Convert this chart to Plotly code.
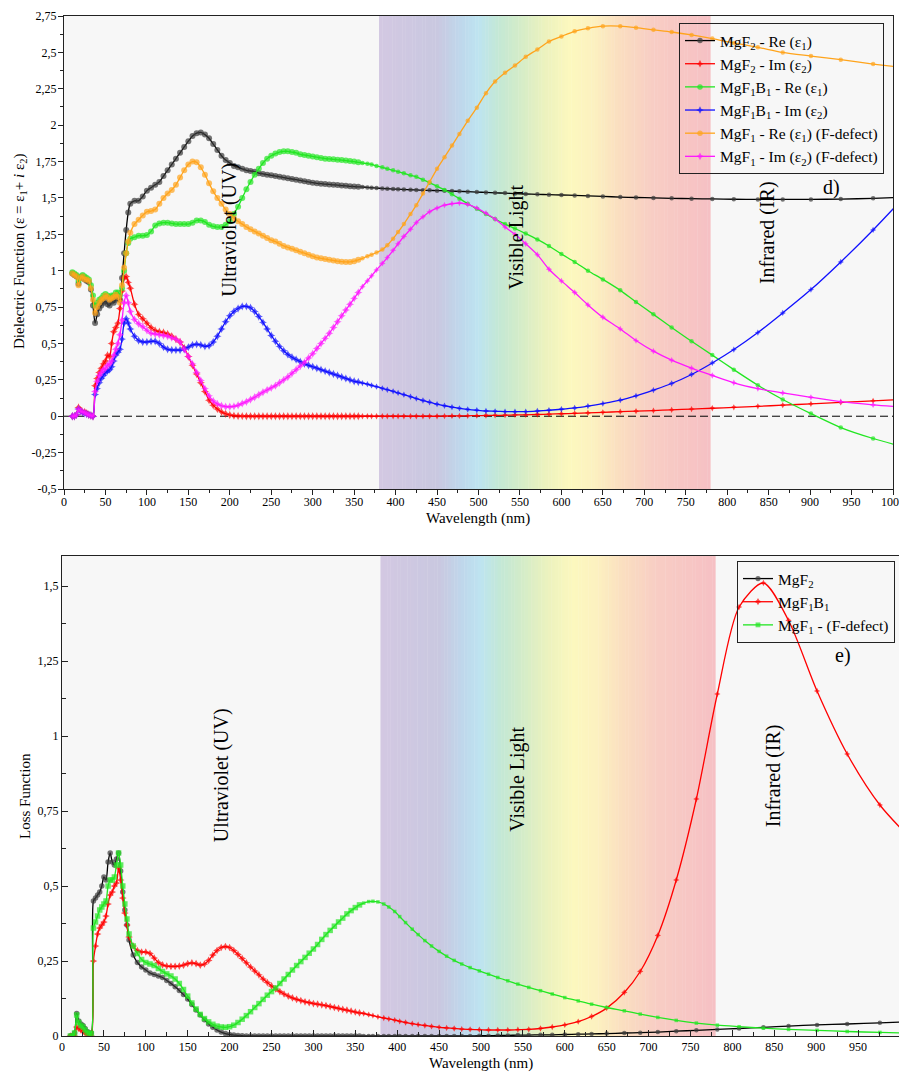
import plotly.graph_objects as go

# ---------------- wavelength grid (nm) ----------------
wl_a = [10, 12.5, 15, 17.5, 20, 22.5, 25, 27.5, 30, 32.5,
        35, 37.5, 40, 42.5, 45, 47.5, 50, 52.5, 55, 57.5,
        60, 62.5, 65, 67.5, 70, 72.5, 75, 77.5, 80]
wl_b = [85, 90, 95, 100, 105, 110, 115, 120, 125, 130,
        135, 140, 145, 150, 155, 160, 165, 170, 175, 180,
        185, 190, 195, 200, 205, 210, 215, 220, 225, 230,
        235, 240, 245, 250, 255, 260, 265, 270, 275, 280,
        285, 290, 295, 300, 305, 310, 315, 320, 325, 330,
        335, 340, 345, 350, 355]
wl_c = [360, 366, 371, 377, 384, 390, 397, 403, 410, 418,
        425, 433, 441, 450, 459, 468, 477, 487, 498, 509,
        520, 532, 544, 557, 571, 585, 600, 616, 632, 650,
        671, 690, 711, 733, 757, 782, 808, 837, 867, 901,
        937, 976, 1019]
wavelength = wl_a + wl_b + wl_c

# ---------------- d) dielectric function ----------------
re_mgf2 = [0.98, 0.97, 0.96, 0.91, 0.95, 0.96, 0.94, 0.93, 0.92, 0.87,
           0.76, 0.64, 0.70, 0.74, 0.76, 0.78, 0.79, 0.77, 0.76, 0.79,
           0.78, 0.80, 0.81, 0.80, 0.95, 1.12, 1.28, 1.40, 1.46,
           1.48, 1.48, 1.51, 1.55, 1.57, 1.59, 1.61, 1.65, 1.69, 1.73,
           1.77, 1.81, 1.85, 1.89, 1.925, 1.945, 1.95, 1.935, 1.91, 1.87,
           1.83, 1.79, 1.76, 1.74, 1.72, 1.71, 1.70, 1.69, 1.685, 1.68,
           1.67, 1.665, 1.66, 1.655, 1.65, 1.645, 1.64, 1.635, 1.63, 1.625,
           1.62, 1.615, 1.61, 1.605, 1.60, 1.598, 1.595, 1.593, 1.59, 1.588,
           1.585, 1.583, 1.58, 1.578, 1.576,
           1.575, 1.572, 1.57, 1.568, 1.565, 1.563, 1.561, 1.56, 1.558, 1.556,
           1.555, 1.553, 1.552, 1.55, 1.549, 1.547, 1.545, 1.543, 1.54, 1.538,
           1.535, 1.533, 1.53, 1.527, 1.525, 1.522, 1.52, 1.517, 1.514, 1.51,
           1.506, 1.503, 1.5, 1.497, 1.495, 1.493, 1.491, 1.49, 1.49, 1.49,
           1.492, 1.497, 1.505]
im_mgf2 = [0.0, 0.0, 0.01, 0.06, 0.04, 0.03, 0.03, 0.02, 0.01, 0.005,
           0.0, 0.21, 0.26, 0.30, 0.33, 0.36, 0.38, 0.42, 0.41, 0.50,
           0.58, 0.61, 0.64, 0.74, 0.86, 0.95, 0.96, 0.92, 0.88,
           0.77, 0.70, 0.67, 0.64, 0.61, 0.59, 0.58, 0.575, 0.565, 0.55,
           0.53, 0.51, 0.47, 0.41, 0.35, 0.29, 0.23, 0.17, 0.11, 0.075,
           0.05, 0.03, 0.017, 0.008, 0.004, 0.002, 0.001, 0.0, 0.0, 0.0,
           0.0, 0.0, 0.0, 0.0, 0.0, 0.0, 0.0, 0.0, 0.0, 0.0,
           0.0, 0.0, 0.0, 0.0, 0.0, 0.0, 0.0, 0.0, 0.0, 0.0,
           0.0, 0.0, 0.0, 0.0, 0.0,
           0.0, 0.0, 0.0, 0.0, 0.0, 0.0, 0.0, 0.0, 0.0, 0.0,
           0.0, 0.0, 0.0, 0.0, 0.001, 0.002, 0.002, 0.003, 0.004, 0.005,
           0.006, 0.007, 0.009, 0.01, 0.012, 0.014, 0.017, 0.02, 0.023, 0.027,
           0.031, 0.035, 0.039, 0.044, 0.049, 0.055, 0.061, 0.068, 0.076, 0.085,
           0.095, 0.106, 0.118]
re_mgf1b1 = [0.99, 0.98, 0.97, 0.93, 0.96, 0.97, 0.96, 0.95, 0.94, 0.90,
             0.83, 0.76, 0.78, 0.80, 0.81, 0.83, 0.84, 0.83, 0.82, 0.83,
             0.83, 0.85, 0.85, 0.83, 0.88, 1.0, 1.12, 1.19, 1.22,
             1.23, 1.24, 1.24, 1.245, 1.27, 1.31, 1.325, 1.33, 1.33, 1.325,
             1.32, 1.32, 1.32, 1.32, 1.33, 1.345, 1.345, 1.335, 1.315, 1.305,
             1.30, 1.30, 1.315, 1.34, 1.39, 1.44, 1.50, 1.56, 1.61, 1.66,
             1.70, 1.74, 1.77, 1.79, 1.805, 1.815, 1.82, 1.82, 1.815, 1.81,
             1.80, 1.795, 1.79, 1.785, 1.78, 1.775, 1.77, 1.768, 1.765, 1.762,
             1.76, 1.757, 1.753, 1.75, 1.745,
             1.74, 1.735, 1.73, 1.72, 1.71, 1.70, 1.69, 1.68, 1.67, 1.655,
             1.645, 1.625, 1.605, 1.58, 1.555, 1.525, 1.495, 1.46, 1.425, 1.39,
             1.355, 1.32, 1.29, 1.255, 1.215, 1.17, 1.115, 1.06, 1.0, 0.94,
             0.865, 0.785, 0.70, 0.61, 0.515, 0.42, 0.32, 0.213, 0.115, 0.018,
             -0.078, -0.153, -0.22]
im_mgf1b1 = [0.0, 0.0, 0.01, 0.05, 0.035, 0.025, 0.02, 0.015, 0.01, 0.005,
             0.0, 0.15, 0.19, 0.23, 0.26, 0.28, 0.30, 0.31, 0.32, 0.34,
             0.38, 0.42, 0.44, 0.46, 0.53, 0.64, 0.67, 0.64, 0.60,
             0.55, 0.52, 0.51, 0.51, 0.515, 0.515, 0.50, 0.475, 0.46, 0.455,
             0.455, 0.455, 0.46, 0.475, 0.49, 0.495, 0.49, 0.48, 0.485, 0.51,
             0.55, 0.60, 0.65, 0.69, 0.72, 0.74, 0.755, 0.755, 0.745, 0.72,
             0.685, 0.645, 0.60, 0.555, 0.515, 0.48, 0.45, 0.425, 0.405, 0.39,
             0.375, 0.36, 0.35, 0.34, 0.33, 0.32, 0.31, 0.30, 0.29, 0.28,
             0.27, 0.26, 0.25, 0.24, 0.235,
             0.228, 0.22, 0.212, 0.203, 0.192, 0.182, 0.171, 0.16, 0.148, 0.134,
             0.121, 0.108, 0.096, 0.083, 0.072, 0.062, 0.054, 0.047, 0.041, 0.036,
             0.034, 0.032, 0.031, 0.032, 0.036, 0.041, 0.048, 0.057, 0.07, 0.087,
             0.11, 0.14, 0.18, 0.225, 0.287, 0.366, 0.458, 0.575, 0.71, 0.87,
             1.06, 1.28, 1.54]
re_mgf1 = [0.98, 0.97, 0.96, 0.90, 0.95, 0.96, 0.94, 0.94, 0.93, 0.88,
           0.80, 0.71, 0.75, 0.78, 0.80, 0.81, 0.83, 0.82, 0.80, 0.81,
           0.82, 0.835, 0.82, 0.78, 0.90, 1.02, 1.12, 1.20, 1.26,
           1.32, 1.35, 1.38, 1.405, 1.41, 1.42, 1.46, 1.50, 1.53, 1.555,
           1.59, 1.64, 1.69, 1.73, 1.75, 1.745, 1.71, 1.66, 1.60, 1.545,
           1.50, 1.46, 1.42, 1.39, 1.36, 1.34, 1.32, 1.30, 1.285, 1.27,
           1.255, 1.24, 1.225, 1.21, 1.20, 1.185, 1.17, 1.16, 1.15, 1.14,
           1.13, 1.12, 1.11, 1.10, 1.09, 1.085, 1.08, 1.075, 1.07, 1.065,
           1.062, 1.06, 1.06, 1.065, 1.075,
           1.085, 1.10, 1.11, 1.125, 1.145, 1.175, 1.22, 1.265, 1.32, 1.39,
           1.45, 1.53, 1.61, 1.70, 1.78, 1.86, 1.94, 2.03, 2.12, 2.22,
           2.30, 2.36, 2.41, 2.47, 2.52, 2.575, 2.61, 2.645, 2.665, 2.68,
           2.68, 2.67, 2.655, 2.64, 2.62, 2.595, 2.565, 2.535, 2.50, 2.475,
           2.45, 2.42, 2.39]
im_mgf1 = [0.0, 0.0, 0.01, 0.05, 0.035, 0.03, 0.025, 0.015, 0.01, 0.005,
           0.0, 0.17, 0.24, 0.28, 0.30, 0.32, 0.33, 0.35, 0.36, 0.38,
           0.42, 0.46, 0.50, 0.56, 0.66, 0.78, 0.83, 0.78, 0.72,
           0.665, 0.635, 0.615, 0.59, 0.57, 0.565, 0.56, 0.555, 0.55, 0.54,
           0.53, 0.51, 0.46, 0.41, 0.36, 0.30, 0.245, 0.19, 0.14, 0.105,
           0.085, 0.072, 0.066, 0.065, 0.068, 0.075, 0.088, 0.10, 0.115, 0.13,
           0.148, 0.165, 0.18, 0.195, 0.21, 0.23, 0.25, 0.27, 0.295, 0.32,
           0.345, 0.37, 0.40, 0.43, 0.465, 0.50, 0.535, 0.57, 0.61, 0.65,
           0.69, 0.73, 0.77, 0.81, 0.85,
           0.89, 0.93, 0.965, 1.005, 1.05, 1.09, 1.14, 1.185, 1.235, 1.285,
           1.33, 1.37, 1.405, 1.43, 1.45, 1.46, 1.465, 1.455, 1.43, 1.395,
           1.355, 1.30, 1.25, 1.185, 1.11, 1.01, 0.93, 0.85, 0.765, 0.68,
           0.60, 0.52, 0.447, 0.385, 0.33, 0.28, 0.23, 0.19, 0.16, 0.13,
           0.10, 0.078, 0.06]

# ---------------- e) loss function ----------------
loss_mgf2 = [0.0, 0.0, 0.01, 0.075, 0.05, 0.04, 0.035, 0.025, 0.015, 0.01,
             0.01, 0.45, 0.46, 0.47, 0.48, 0.50, 0.53, 0.52, 0.58, 0.61,
             0.58, 0.57, 0.59, 0.61, 0.55, 0.48, 0.42, 0.37, 0.32,
             0.27, 0.245, 0.23, 0.22, 0.21, 0.205, 0.20, 0.195, 0.185, 0.175,
             0.164, 0.152, 0.138, 0.123, 0.105, 0.087, 0.07, 0.054, 0.04, 0.029,
             0.02, 0.013, 0.008, 0.005, 0.003, 0.002, 0.001, 0.0, 0.0, 0.0,
             0.0, 0.0, 0.0, 0.0, 0.0, 0.0, 0.0, 0.0, 0.0, 0.0,
             0.0, 0.0, 0.0, 0.0, 0.0, 0.0, 0.0, 0.0, 0.0, 0.0,
             0.0, 0.0, 0.0, 0.0, 0.0,
             0.0, 0.0, 0.0, 0.0, 0.0, 0.0, 0.0, 0.0, 0.0, 0.0,
             0.0, 0.0, 0.0, 0.0, 0.0, 0.0, 0.0, 0.0, 0.001, 0.001,
             0.002, 0.002, 0.003, 0.003, 0.004, 0.004, 0.005, 0.006, 0.007, 0.008,
             0.01, 0.011, 0.013, 0.016, 0.019, 0.022, 0.025, 0.029, 0.033, 0.037,
             0.04, 0.044, 0.048]
loss_mgf1b1 = [0.0, 0.0, 0.0, 0.03, 0.025, 0.02, 0.015, 0.01, 0.005, 0.0,
               0.0, 0.25, 0.30, 0.34, 0.36, 0.37, 0.38, 0.40, 0.44, 0.47,
               0.48, 0.50, 0.51, 0.56, 0.52, 0.46, 0.41, 0.37, 0.33,
               0.30, 0.285, 0.28, 0.28, 0.275, 0.26, 0.245, 0.237, 0.233, 0.232,
               0.232, 0.233, 0.236, 0.241, 0.244, 0.241, 0.236, 0.24, 0.252, 0.27,
               0.285, 0.295, 0.298, 0.295, 0.285, 0.272, 0.258, 0.244, 0.23, 0.217,
               0.204, 0.19, 0.178, 0.167, 0.157, 0.148, 0.14, 0.133, 0.127, 0.122,
               0.118, 0.114, 0.111, 0.108, 0.106, 0.104, 0.101, 0.098, 0.095, 0.092,
               0.089, 0.086, 0.083, 0.08, 0.077,
               0.075, 0.071, 0.068, 0.064, 0.06, 0.057, 0.053, 0.049, 0.045, 0.041,
               0.038, 0.035, 0.032, 0.029, 0.027, 0.025, 0.023, 0.022, 0.021, 0.02,
               0.02, 0.02, 0.021, 0.022, 0.025, 0.03, 0.037, 0.048, 0.065, 0.093,
               0.145, 0.215, 0.335, 0.52, 0.79, 1.14, 1.43, 1.51, 1.385, 1.15,
               0.94, 0.77, 0.64]
loss_mgf1 = [0.0, 0.0, 0.01, 0.07, 0.045, 0.035, 0.03, 0.02, 0.012, 0.008,
             0.008, 0.36, 0.38, 0.40, 0.42, 0.43, 0.44, 0.45, 0.50, 0.52,
             0.52, 0.53, 0.57, 0.61, 0.57, 0.50, 0.44, 0.39, 0.34,
             0.30, 0.275, 0.255, 0.245, 0.24, 0.235, 0.225, 0.215, 0.207, 0.20,
             0.19, 0.175, 0.155, 0.133, 0.11, 0.09, 0.072, 0.058, 0.047, 0.039,
             0.033, 0.03, 0.029, 0.031, 0.036, 0.045, 0.056, 0.068, 0.081, 0.095,
             0.108, 0.122, 0.136, 0.148, 0.16, 0.175, 0.19, 0.205, 0.22, 0.235,
             0.248, 0.262, 0.276, 0.29, 0.305, 0.322, 0.338, 0.352, 0.366, 0.38,
             0.393, 0.407, 0.418, 0.428, 0.437,
             0.443, 0.448, 0.449, 0.447, 0.44, 0.43, 0.415, 0.398, 0.378, 0.356,
             0.338, 0.318, 0.30, 0.282, 0.266, 0.252, 0.24, 0.228, 0.217, 0.206,
             0.195, 0.184, 0.173, 0.162, 0.151, 0.14, 0.128, 0.117, 0.106, 0.095,
             0.084, 0.073, 0.062, 0.052, 0.043, 0.036, 0.031, 0.026, 0.022, 0.019,
             0.015, 0.012, 0.009]

# ---------------- tick labels ----------------
top_y_vals = [-0.5, -0.25, 0, 0.25, 0.5, 0.75, 1, 1.25, 1.5, 1.75, 2, 2.25, 2.5, 2.75]
top_y_text = ["-0,5", "-0,25", "0", "0,25", "0,5", "0,75", "1", "1,25", "1,5",
              "1,75", "2", "2,25", "2,5", "2,75"]
bot_y_vals = [0, 0.25, 0.5, 0.75, 1, 1.25, 1.5]
bot_y_text = ["0", "0,25", "0,5", "0,75", "1", "1,25", "1,5"]

# ---------------- styling / layout helpers ----------------
OFF = 8                       # page body margin of the html page
W, H = 907 - OFF, 1072 - OFF
FONT = "Liberation Serif"
VIS_LO, VIS_HI = 380, 780


def fx(px):
    return (px - OFF) / W


def fy(py):
    return 1 - (py - OFF) / H


band_stops = [(380, (211, 200, 226)), (450, (201, 200, 224)), (480, (190, 216, 236)),
              (500, (190, 228, 240)), (525, (196, 232, 212)), (550, (212, 236, 200)),
              (580, (236, 242, 190)), (610, (252, 248, 190)), (640, (252, 240, 192)),
              (670, (250, 222, 192)), (710, (248, 205, 196)), (780, (246, 192, 196))]


def band_color(w):
    for (w0, c0), (w1, c1) in zip(band_stops[:-1], band_stops[1:]):
        if w0 <= w <= w1:
            t = (w - w0) / (w1 - w0)
            c = [round(a + (b - a) * t) for a, b in zip(c0, c1)]
            return "rgb(%d,%d,%d)" % tuple(c)
    return "rgb(%d,%d,%d)" % band_stops[-1][1]


def sizes(dense, sparse):
    return [dense if w < 360 else sparse for w in wavelength]


fig = go.Figure()

top_series = [
    ("MgF<sub>2</sub> - Re (ε<sub>1</sub>)", re_mgf2, "#000000", "#3a3a3a", "circle"),
    ("MgF<sub>2</sub> - Im (ε<sub>2</sub>)", im_mgf2, "#ff0000", "#ff0000", "star-diamond"),
    ("MgF<sub>1</sub>B<sub>1</sub> - Re (ε<sub>1</sub>)", re_mgf1b1, "#22e622", "#22e622", "circle"),
    ("MgF<sub>1</sub>B<sub>1</sub> - Im (ε<sub>2</sub>)", im_mgf1b1, "#1010ff", "#1010ff", "star-diamond"),
    ("MgF<sub>1</sub> - Re (ε<sub>1</sub>) (F-defect)", re_mgf1, "#ffa41c", "#ffa41c", "circle"),
    ("MgF<sub>1</sub> - Im (ε<sub>2</sub>) (F-defect)", im_mgf1, "#ff18ff", "#ff18ff", "star-diamond"),
]
for name, ys, lc, mc, sym in top_series:
    fig.add_trace(go.Scatter(
        x=wavelength, y=ys, name=name, mode="lines+markers",
        line=dict(color=lc, width=1.3, shape="spline", smoothing=0.8),
        marker=dict(color=mc, size=sizes(6, 4.5), symbol=sym, line=dict(width=0)),
        xaxis="x", yaxis="y", legend="legend", hoverinfo="skip"))

bot_series = [
    ("MgF<sub>2</sub>", loss_mgf2, "#000000", "#3a3a3a", "circle", 4.5),
    ("MgF<sub>1</sub>B<sub>1</sub>", loss_mgf1b1, "#ff0000", "#ff0000", "star-diamond", 4.5),
    ("MgF<sub>1</sub> - (F-defect)", loss_mgf1, "#22e622", "#22e622", "square", 3.5),
]
for name, ys, lc, mc, sym, ms in bot_series:
    fig.add_trace(go.Scatter(
        x=wavelength, y=ys, name=name, mode="lines+markers",
        line=dict(color=lc, width=1.3, shape="spline", smoothing=0.8),
        marker=dict(color=mc, size=sizes(5.5, ms), symbol=sym, line=dict(width=0)),
        xaxis="x2", yaxis="y2", legend="legend2", hoverinfo="skip"))

shapes = []
step = 4
for xr, yr in (("x", "y domain"), ("x2", "y2 domain")):
    w = VIS_LO
    while w < VIS_HI:
        shapes.append(dict(type="rect", xref=xr, yref=yr, x0=w, x1=min(w + step + 0.4, VIS_HI),
                           y0=0, y1=1, fillcolor=band_color(w + step / 2),
                           line=dict(width=0), layer="below"))
        w += step
shapes.append(dict(type="line", xref="x domain", yref="y", x0=0, x1=1, y0=0, y1=0,
                   line=dict(color="black", width=1, dash="8px,4px"), layer="below"))

axis_common = dict(showline=True, linecolor="#222222", linewidth=1.3, mirror=True,
                   showgrid=False, zeroline=False, automargin=False,
                   tickfont=dict(family=FONT, size=12, color="black"),
                   tickcolor="#222222", tickwidth=1)

fig.update_layout(
    width=W, height=H, margin=dict(l=0, r=0, t=0, b=0),
    paper_bgcolor="white", plot_bgcolor="#f7f7f7",
    font=dict(family=FONT, color="black"),
    xaxis=dict(domain=[fx(64), fx(893)], anchor="y", range=[0, 1000],
               tickmode="linear", tick0=0, dtick=50, ticks="outside", ticklen=5,
               ticklabelstandoff=-4,
               minor=dict(ticks="outside", ticklen=3, tick0=0, dtick=25, tickcolor="#222222"),
               **axis_common),
    yaxis=dict(domain=[fy(489), fy(16)], anchor="x", range=[-0.5, 2.75],
               tickmode="array", tickvals=top_y_vals, ticktext=top_y_text,
               ticks="outside", ticklen=5, ticklabelstandoff=-1,
               minor=dict(ticks="outside", ticklen=3, tickmode="linear", tick0=-0.5, dtick=0.125,
                          tickcolor="#222222"),
               **axis_common),
    xaxis2=dict(domain=[fx(62), fx(900)], anchor="y2", range=[0, 1000],
                tickmode="linear", tick0=0, dtick=50, ticks="inside", ticklen=6,
                ticklabelstandoff=-1,
                minor=dict(ticks="inside", ticklen=4, tick0=0, dtick=25, tickcolor="#222222"),
                **axis_common),
    yaxis2=dict(domain=[fy(1036), fy(556)], anchor="x2", range=[0, 1.6],
                tickmode="array", tickvals=bot_y_vals, ticktext=bot_y_text,
                ticks="inside", ticklen=6,
                minor=dict(ticks="inside", ticklen=4, tickmode="linear", tick0=0, dtick=0.125,
                           tickcolor="#222222"),
                **axis_common),
    legend=dict(x=fx(679), y=fy(23), xanchor="left", yanchor="top",
                bgcolor="rgba(0,0,0,0)", bordercolor="#222222", borderwidth=1,
                font=dict(family=FONT, size=15.5, color="black"), itemwidth=30,
                tracegroupgap=0),
    legend2=dict(x=fx(737), y=fy(561), xanchor="left", yanchor="top",
                 bgcolor="rgba(0,0,0,0)", bordercolor="#222222", borderwidth=1,
                 font=dict(family=FONT, size=15.5, color="black"), itemwidth=30,
                 tracegroupgap=0),
    shapes=shapes,
    showlegend=True,
)

ann_font = dict(family=FONT, size=20, color="black")
title_font = dict(family=FONT, size=15, color="black")
annotations = [
    dict(text="Ultraviolet (UV)", x=200, y=1.28, xref="x", yref="y", textangle=-90, font=ann_font),
    dict(text="Visible Light", x=546, y=1.23, xref="x", yref="y", textangle=-90, font=ann_font),
    dict(text="Infrared (IR)", x=848, y=1.265, xref="x", yref="y", textangle=-90, font=ann_font),
    dict(text="d)", x=926, y=1.575, xref="x", yref="y", font=ann_font),
    dict(text="Ultraviolet (UV)", x=190, y=0.87, xref="x2", yref="y2", textangle=-90, font=ann_font),
    dict(text="Visible Light", x=544, y=0.857, xref="x2", yref="y2", textangle=-90, font=ann_font),
    dict(text="Infrared (IR)", x=850, y=0.867, xref="x2", yref="y2", textangle=-90, font=ann_font),
    dict(text="e)", x=932, y=1.267, xref="x2", yref="y2", font=ann_font),
    dict(text="Dielectric Function (ε = ε<sub>1</sub>+ <i>i</i> ε<sub>2</sub>)",
         x=fx(20), y=fy(252), xref="paper", yref="paper", textangle=-90, font=title_font),
    dict(text="Wavelength (nm)", x=fx(478), y=fy(518), xref="paper", yref="paper",
         font=title_font),
    dict(text="Loss Function", x=fx(25), y=fy(796), xref="paper", yref="paper",
         textangle=-90, font=title_font),
    dict(text="Wavelength (nm)", x=fx(481), y=fy(1063), xref="paper", yref="paper",
         font=title_font),
]
for a in annotations:
    a.setdefault("showarrow", False)
    a.setdefault("xanchor", "center")
    a.setdefault("yanchor", "middle")
fig.update_layout(annotations=annotations)

fig.write_html("out.html")
